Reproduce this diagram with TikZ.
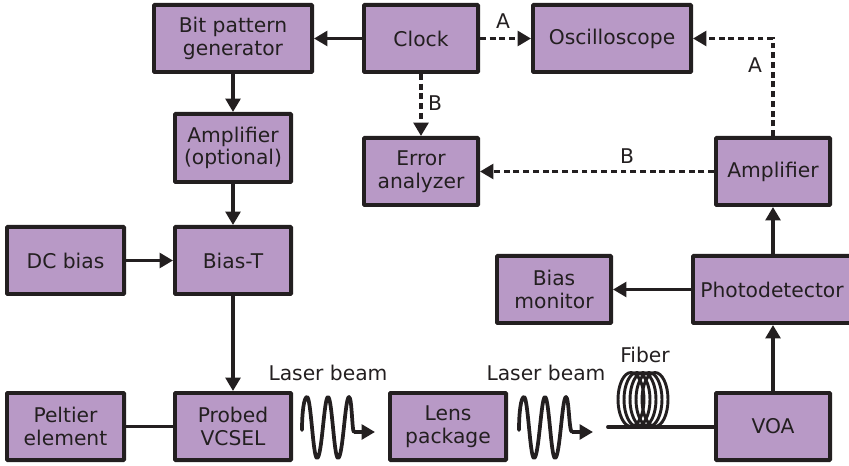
\documentclass[tikz,border=0pt]{standalone}
\usepackage{fontspec}
\setmainfont{DejaVu Sans}
\usetikzlibrary{arrows.meta}
\definecolor{boxfill}{HTML}{B899C6}
\definecolor{ink}{HTML}{231F20}
\tikzset{
 x=0.75pt,y=-0.75pt,
 blockbox/.style={draw=ink,fill=boxfill,line width=2.9pt,rounded corners=0.6pt,inner sep=0pt,align=center,text=ink,font=\fontsize{15.2}{17}\selectfont,anchor=north west},
 conn/.style={draw=ink,line width=2.9pt,-{Triangle[length=10pt,width=11pt]}},
 dotconn/.style={conn,dash pattern=on 4.4pt off 2.9pt},
 plainconn/.style={draw=ink,line width=2.9pt},
 wave/.style={draw=ink,line width=2.8pt,line cap=round,line join=round},
 waveend/.style={draw=ink,line width=2.8pt,-{Triangle[length=10pt,width=11pt]}},
 coil/.style={draw=ink,line width=2.2pt},
 lab/.style={text=ink,font=\fontsize{15.2}{17}\selectfont,inner sep=0pt},
}
\newcommand{\bx}[6]{\node[blockbox,minimum width=#4*0.75pt-2.9pt,minimum height=#5*0.75pt-2.9pt] (#1) at (#2,#3) {#6};}
\begin{document}
\begin{tikzpicture}
\useasboundingbox (0,0) rectangle (849,466);
\begin{scope}
\clip (0,0) rectangle (849,466);
\bx{bit}{152}{3}{162}{71}{Bit pattern\\generator}
\bx{clock}{362}{3}{118}{71}{Clock}
\bx{osc}{531}{3}{162}{71}{Oscilloscope}
\bx{ampo}{173}{112}{120}{72}{Amplifier\\(optional)}
\bx{err}{362}{136}{118}{71}{Error\\analyzer}
\bx{ampr}{714}{136}{118}{71}{Amplifier}
\bx{dc}{5}{225}{121}{71}{DC bias}
\bx{biast}{173}{225}{120}{71}{Bias-T}
\bx{mon}{495}{254}{118}{71}{Bias\\monitor}
\bx{pd}{691}{254}{162}{71}{Photodetector}
\bx{pel}{5}{391}{121}{71}{Peltier\\element}
\bx{vcsel}{173}{391}{120}{71}{Probed\\VCSEL}
\bx{lens}{388}{391}{120}{71}{Lens\\package}
\bx{voa}{714}{391}{118}{71}{VOA}
\end{scope}
% solid connectors
\draw[conn] (clock.west) -- (bit.east);
\draw[conn] (bit.south -| ampo.north) -- (ampo.north);
\draw[conn] (ampo.south) -- (biast.north);
\draw[conn] (dc.east) -- (biast.west);
\draw[conn] (biast.south) -- (vcsel.north);
\draw[plainconn] (pel.east) -- (vcsel.west);
\draw[conn] (voa.north) -- (voa.north |- pd.south);
\draw[conn] (pd.north -| ampr.south) -- (ampr.south);
\draw[conn] (pd.west) -- (mon.east);
% dashed connectors
\draw[dotconn] (clock.east) -- (osc.west);
\draw[dotconn] (clock.south) -- (err.north);
\draw[dotconn] (ampr.west) -- (err.east);
\draw[dotconn] (ampr.north) |- (osc.east);
% labels
\node[lab] (la) at (503,21) {A};
\node[lab] (lb) at (435,103) {B};
\node[lab] (la2) at (755,65) {A};
\node[lab] (lb2) at (627,156) {B};
\node[lab] (beam1) at (328,373) {Laser beam};
\node[lab] (beam2) at (546,373) {Laser beam};
\node[lab] (fiber) at (645,355) {Fiber};
% beams
\coordinate (w1a) at (354,432);
\coordinate (w1b) at (375,432);
\coordinate (w2a) at (572,432);
\coordinate (w2b) at (593,432);
\draw[wave] (302,430) .. controls (302,412) and (304,397) .. (307,397)
 .. controls (311,397) and (313,458) .. (317,458)
 .. controls (322,458) and (324,397) .. (328,397)
 .. controls (332,397) and (334,458) .. (338,458)
 .. controls (343,458) and (345,397) .. (349,397)
 .. controls (352,397) and (352,432) .. (354,432);
\draw[waveend] (w1a) -- (w1b);
\draw[wave] (519,430) .. controls (519,412) and (521,397) .. (524,397)
 .. controls (528,397) and (530,458) .. (534,458)
 .. controls (539,458) and (541,397) .. (545,397)
 .. controls (549,397) and (551,458) .. (555,458)
 .. controls (560,458) and (562,397) .. (566,397)
 .. controls (569,397) and (569,432) .. (572,432);
\draw[waveend] (w2a) -- (w2b);
% fibre coil
\foreach \c in {631,637,643,649,655}{
 \draw[coil] (\c+13,399.5) arc[x radius=13,y radius=27,start angle=0,end angle=360];
}
\coordinate (fstart) at (608,427);
\draw[plainconn,line cap=round] (fstart) -- (voa.west |- fstart);
\end{tikzpicture}
\end{document}
